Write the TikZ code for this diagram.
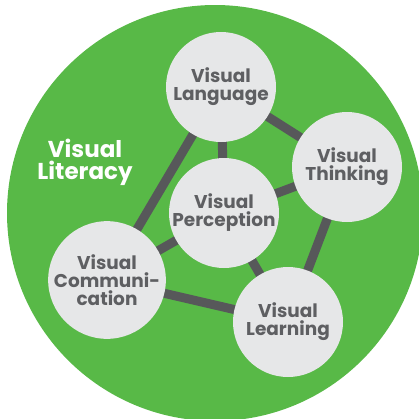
\documentclass[tikz,border=0pt]{standalone}
\usepackage{fontspec}
\setmainfont{Poppins}
\usetikzlibrary{backgrounds}
\definecolor{litgreen}{HTML}{58B947}
\definecolor{bubble}{HTML}{E6E7E8}
\definecolor{linkgray}{HTML}{57585A}
\definecolor{textgray}{HTML}{5E5F62}

\begin{document}
\begin{tikzpicture}[x=1pt, y=-1pt,
  topic/.style={circle, fill=bubble, minimum size=110pt, inner sep=0pt, align=center,
    text=textgray, font=\fontsize{18.5}{18}\selectfont\bfseries},
  link/.style={line width=9pt, draw=linkgray}]
\useasboundingbox (0,0) rectangle (419,418);
\node[topic] (lang) at (221,87) {Visual\\Language};
\node[topic] (think) at (347,167) {Visual\\Thinking};
\node[topic] (perc) at (224,213) {Visual\\Perception};
\node[topic] (comm) at (107,280) {Visual\\Communi-\\cation};
\node[topic] (learn) at (288,322) {Visual\\Learning};
\node[align=center, text=white, font=\fontsize{23}{22}\selectfont\bfseries] (lit) at (85,162) {Visual\\Literacy};
\begin{scope}[on background layer]
\clip (0,0) rectangle (419,418);
\fill[litgreen] (215,213) circle (208pt);
\path [link]
    (lang.center) edge (think.center)
    (lang.center) edge (perc.center)
    (lang.center) edge (comm.center)
    (think.center) edge (perc.center)
    (think.center) edge (learn.center)
    (perc.center) edge (comm.center)
    (perc.center) edge (learn.center)
    (comm.center) edge (learn.center);
\end{scope}
\end{tikzpicture}
\end{document}
